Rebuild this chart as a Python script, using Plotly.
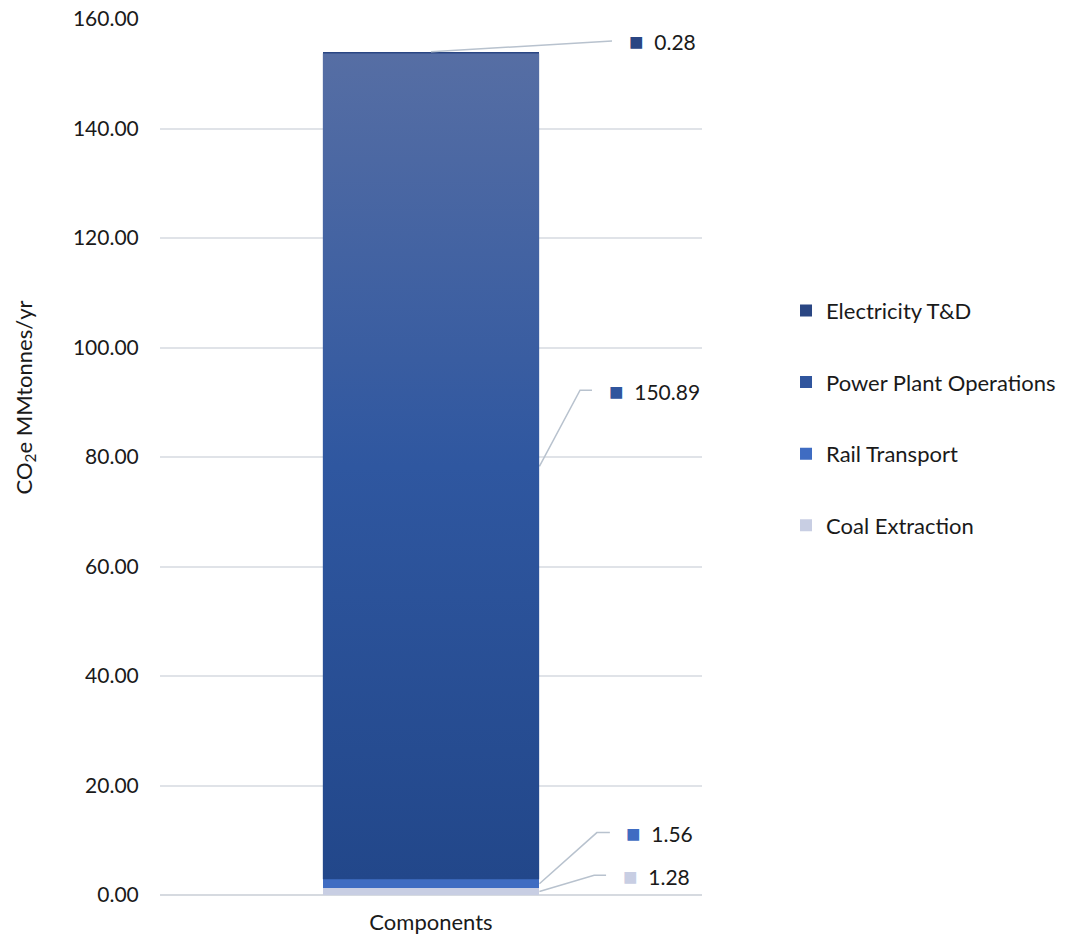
import base64
import plotly.graph_objects as go

categories = ["Components"]
series_names = ["Coal Extraction", "Rail Transport", "Power Plant Operations", "Electricity T&D"]
series_values = [1.28, 1.56, 150.89, 0.28]
series_colors = ["#c8cee3", "#3f6cc2", "#30559d", "#2a4683"]
legend_rank = [4, 3, 2, 1]
y_ticks = [0, 20, 40, 60, 80, 100, 120, 140, 160]
y_title = "CO<sub>2</sub>e MMtonnes/yr"

# label placement (layout only): elbow x, end x, label y (in axis units)
label_layout = [
    dict(anchor="right", elbow_x=0.301, end_x=0.323, label_y=3.6, text_x=0.350),
    dict(anchor="right", elbow_x=0.306, end_x=0.330, label_y=11.4, text_x=0.357),
    dict(anchor="right", elbow_x=0.275, end_x=0.297, label_y=92.2, text_x=0.325),
    dict(anchor="top", elbow_x=0.325, end_x=0.334, label_y=156.0, text_x=0.361),
]

FONT = "Lato, 'Open Sans', sans-serif"
BAR_W = 0.4

fig = go.Figure()
for name, val, col, rk in zip(series_names, series_values, series_colors, legend_rank):
    fig.add_trace(go.Bar(
        x=[0], y=[val], name=name, width=BAR_W,
        marker=dict(color=col, line=dict(width=0)),
        legendgroup=name, legendrank=rk, hoverinfo="name+y",
    ))

bases = []
acc = 0
for v in series_values:
    bases.append(acc)
    acc += v

# gradient overlay for the main segment (styling only, positioned from the data)
svg = ("<svg xmlns='http://www.w3.org/2000/svg' width='10' height='100' preserveAspectRatio='none'>"
       "<defs><linearGradient id='g' x1='0' y1='0' x2='0' y2='1'>"
       "<stop offset='0' stop-color='#566ea4'/><stop offset='0.5' stop-color='#2f57a0'/>"
       "<stop offset='1' stop-color='#22478a'/></linearGradient></defs>"
       "<rect width='10' height='100' fill='url(#g)'/></svg>")
svg_uri = "data:image/svg+xml;base64," + base64.b64encode(svg.encode()).decode()
main_idx = 2
fig.add_layout_image(dict(
    source=svg_uri, xref="x", yref="y",
    x=-BAR_W / 2, y=bases[main_idx] + series_values[main_idx],
    sizex=BAR_W, sizey=series_values[main_idx],
    xanchor="left", yanchor="top", sizing="stretch", layer="above",
))

annotations = []
for i, (val, col, lay) in enumerate(zip(series_values, series_colors, label_layout)):
    if lay["anchor"] == "top":
        ax, ay = 0.0, bases[i] + val
    else:
        ax, ay = BAR_W / 2, bases[i] + val / 2
    fig.add_trace(go.Scatter(
        x=[ax, lay["elbow_x"], lay["end_x"]],
        y=[ay, lay["label_y"], lay["label_y"]],
        mode="lines", line=dict(color="#b8c2ce", width=1.5),
        showlegend=False, hoverinfo="skip", cliponaxis=False,
    ))
    annotations.append(dict(
        x=lay["text_x"], y=lay["label_y"], xref="x", yref="y",
        xanchor="left", yanchor="middle", showarrow=False,
        text=f"<span style='color:{col};font-size:24px'>■</span>&nbsp; {val:.2f}",
        font=dict(family=FONT, size=21, color="#1a1a1a"),
    ))

# y-axis title (placed like the original, slightly above the axis centre)
annotations.append(dict(
    x=-0.249, y=0.568, xref="paper", yref="paper",
    xanchor="center", yanchor="middle", showarrow=False, textangle=-90,
    text=y_title, font=dict(family=FONT, size=22, color="#1a1a1a"),
))

fig.update_layout(
    width=1068, height=939,
    margin=dict(l=160, r=366, t=19, b=44, autoexpand=False),
    paper_bgcolor="white", plot_bgcolor="white",
    barmode="stack",
    font=dict(family=FONT, size=20, color="#262626"),
    annotations=annotations,
    legend=dict(
        x=1.155, xanchor="left", y=0.691, yanchor="top",
        traceorder="grouped", tracegroupgap=40,
        font=dict(family=FONT, size=22, color="#1a1a1a"),
        bgcolor="rgba(0,0,0,0)",
    ),
    xaxis=dict(
        range=[-0.5, 0.5], tickvals=[0], ticktext=categories,
        showgrid=False, zeroline=False, showline=False, automargin=False,
        tickfont=dict(family=FONT, size=22, color="#1a1a1a"),
        ticks="outside", ticklen=8, tickcolor="rgba(0,0,0,0)", fixedrange=True,
    ),
    yaxis=dict(
        range=[0, 160], tickvals=y_ticks, tickformat=".2f", automargin=False,
        showgrid=True, gridcolor="#e0e3e8", gridwidth=1.5,
        zeroline=True, zerolinecolor="#d6dae0", zerolinewidth=1.5,
        showline=False, ticks="outside", ticklen=16, tickcolor="rgba(0,0,0,0)",
        tickfont=dict(family=FONT, size=21, color="#1a1a1a"),
    ),
)

fig.write_html("out.html", post_script="document.body.style.margin='0';",
               config={"displayModeBar": False})
